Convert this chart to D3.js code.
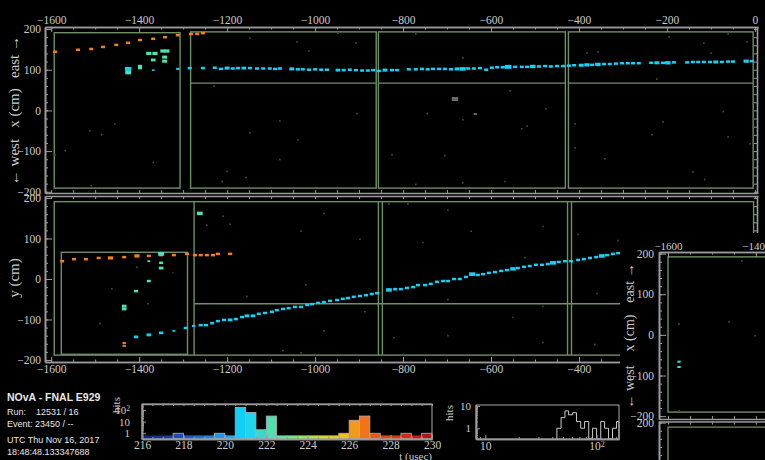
<!DOCTYPE html>
<html>
<head>
<meta charset="utf-8">
<script src="https://cdn.jsdelivr.net/npm/d3@7"></script>
<style>
  html, body { margin: 0; padding: 0; background: #000; }
  svg { display: block; }
</style>
</head>
<body>
<svg id="display" width="765" height="460"></svg>
<script>
// ---------------- event data (cm, µs, PE) ----------------
// hit lists: [z, transverse coordinate, charge (optional)]
const topCyan = [[-1425,102,150],[-1368,99,25],[-1312,102,40],
  [-1285,104],[-1255,104],[-1228,105],[-1214,102],[-1200,104,90],[-1187,103],[-1175,104],[-1162,104,80],[-1148,104],
  [-1132,103],[-1118,103],[-1103,103],[-1091,102],[-1080,103],[-1053,102,90],[-1039,101],[-1028,101],[-1014,100],
  [-1000,101],[-986,100],[-973,100],[-948,99,80],[-935,99],[-921,100],[-907,99],[-893,98],[-880,98],[-868,99],
  [-855,97],[-841,99,90],[-825,99],[-814,99],[-787,101],[-771,101],[-757,102],[-744,101],[-732,102],[-718,102],
  [-705,102],[-691,101],[-677,102,90],[-664,102,120],[-652,103],[-639,103],[-625,104],[-611,100],[-598,105],
  [-586,106],[-573,106],[-561,107,150],[-545,107],[-530,107],[-518,107],[-505,108,110],[-491,108],[-477,109],
  [-464,108],[-450,109],[-436,109],[-423,110],[-411,111],[-395,111,90],[-382,112,100],[-370,112],[-357,113,110],
  [-343,114],[-330,114],[-316,115],[-302,116],[-289,116],[-277,116],[-264,116],[-236,117],[-223,117,90],[-209,117],
  [-198,117,110],[-184,118],[-154,118],[-141,119],[-129,119],[-116,119],[-102,119],[-89,119,90],[-75,119],[-61,120],
  [-50,120],[-20,121,100],[-7,121]];
const topGreen = [[-1378,140,100],[-1364,140,100],[-1368,124,80],[-1346,146,100],[-1337,146,100],
  [-1342,131,90],[-1342,121,90],[-1398,109,60],[-1398,104,60],[-1425,93,120]];
const topOrange = [[-1591,144],[-1539,149],[-1509,151],[-1482,156],[-1452,161],[-1425,166],[-1398,173],
  [-1368,176],[-1341,180],[-1312,185],[-1282,188],[-1268,188],[-1255,190]];
const topGrey = [[-682,28,150],[-636,-9,40]];
const topNoise = [[-1148,178],[-1230,60],[-1512,-50],[-1485,-60],[-1455,-33],[-1568,-99],[-1368,-128],[-1509,-185],
  [-1200,-150],[-1211,-175],[-1157,-165],[-1148,-55],[-1591,-109],[-1041,168],[-1014,146],[-948,190],[-907,166],
  [-771,188],[-664,129],[-1080,-26],[-1039,-72],[-1080,-121],[-905,-8],[-745,-8],[-664,-23],[-557,48],[-518,-38],
  [-475,4],[-530,-45],[-568,-175],[-664,-178],[-705,-111],[-825,-109],[-771,-182],[-409,-33],[-409,-92],[-341,-119],
  [-234,-60],[-209,-28],[-72,-3],[-141,-151],[-114,-170],[-61,-65],[-11,-82],[-382,141],[-357,144],[-195,180],
  [-61,188],[-18,168]];
const topOrangeNoise = [[-100,141],[-116,166],[-223,77]];

const sideCyan = [[-1407,-143,70],[-1378,-138,80],[-1350,-133,70],[-1321,-128,30],[-1294,-121,60],[-1276,-116,40],
  [-1260,-114],[-1248,-114],[-1234,-109],[-1221,-104],[-1207,-101],[-1193,-101,80],[-1180,-99],[-1166,-94],
  [-1155,-91,80],[-1141,-91,80],[-1128,-86],[-1114,-84],[-1098,-81],[-1087,-77],[-1073,-74],[-1060,-72],[-1046,-69],
  [-1032,-69],[-1018,-64],[-1007,-62],[-993,-59],[-980,-57],[-966,-54],[-950,-52],[-937,-49],[-925,-47],[-912,-44],
  [-898,-42],[-884,-40],[-871,-37],[-859,-35],[-832,-27,120],[-818,-25],[-805,-25],[-791,-22],[-777,-20],[-766,-15],
  [-750,-15],[-737,-12],[-723,-7],[-709,-5],[-698,-5],[-684,0],[-671,0],[-657,5],[-643,12,130],[-630,10],[-618,12],
  [-605,15],[-591,17],[-577,20],[-564,22],[-550,25,110],[-539,27],[-525,30],[-512,32],[-498,35],[-484,35],[-471,37],
  [-459,40,130],[-446,42],[-432,44],[-418,44],[-402,47],[-389,49],[-375,52],[-361,54],[-348,57,120],[-336,59],
  [-323,62],[-311,64]];
const sideGreen = [[-1262,162,120],[-1350,62,130],[-1350,40,60],[-1350,27,80],[-1378,44,30],[-1378,-5,60],
  [-1407,-30,60],[-1434,-67,80],[-1434,-74,80]];
const sideOrange = [[-1575,44],[-1548,49],[-1521,49],[-1492,52],[-1465,52,100],[-1434,54],[-1405,57,100],
  [-1378,57],[-1350,59],[-1321,59],[-1291,62],[-1273,59],[-1260,59],[-1246,59],[-1232,59],[-1221,62],[-1193,62],
  [-1434,-158,40],[-1434,-165,40]];
const sideNoise = [[-1209,155],[-1193,135],[-1246,133],[-1405,29],[-1462,-24],[-1489,-110],[-1155,-43],[-1380,-61],
  [-980,162],[-1032,118],[-898,98],[-832,185],[-789,185],[-698,170],[-755,90],[-645,118],[-482,130],[-523,53],
  [-402,110],[-311,95],[-821,-145],[-698,-140],[-550,-95],[-482,-68],[-482,-157],[-364,-162],[-359,-36],[-698,-51],
  [-887,-81],[-1021,-14],[-1073,-177],[-1032,-182],[-980,-128]];
const sideRedNoise = [[-1323,16]];

const insetGreen = [[-1575,-66,40],[-1575,-79,40]];
const insetNoise = [[-1575,27],[-1432,182],[-1402,-2],[-1461,32],[-1575,-187]];

// hit times per cluster (µs)
const cyanTime = 220.9, greenTime = 222.3, orangeTime = 226.6;

// detector outlines: [z0, z1, c0, c1]
const topBoxes = [[-1593,-1307,-191,191],[-1283,-861,-191,193],[-856,-431,-191,193],[-424,-4,-191,193]];
const topDividers = [[-1283,-861,67],[-856,-431,67],[-424,-4,67]];           // [z0, z1, x]
const sideBoxes = [[-1593,-3,-188,191],[-1577,-1290,-186,66]];
const sideVerticals = [-1275,-856,-847,-426,-417];                            // z
const sideDividers = [[-1275,-3,-61]];                                        // [z0, z1, y]
const insetBoxes = [[-1600,-1300,-190,192]];

// time histogram
const timeBinStart = [216,216.5,217,217.5,218,218.5,219,219.5,220,220.5,221,221.5,222,222.5,
  223,223.5,224,224.5,225,225.5,226,226.5,227,227.5,228,228.5,229,229.5];
const timeCounts = [0,0,0,1,0,0,0,1,0,167,62,2,30,0,0,0,0,0,0,1,13,30,1,0,0,1,0,1];
const timeTicks = [216,218,220,222,224,226,228,230];

// charge histogram (log bins)
const qBinEdges = [44,48,52,56,61,66,72,78,85,92,100,109,118,128,139,151,159];
const qCounts = [1,3,6,4,5,2,1,2,0,1,0,2,1,0,1,2];

// run information
const infoTitle = "NOvA - FNAL E929";
const infoLines = ["Run:\u00a0\u00a0\u00a0\u00a012531 / 16", "Event: 23450 / --"];
const infoTime = ["UTC Thu Nov 16, 2017", "18:48:48.133347688"];

// ---------------- drawing ----------------
const svg = d3.select("#display");
const serif = "'Liberation Serif','DejaVu Serif',serif";
const sans = "'Liberation Sans','DejaVu Sans',sans-serif";
const axisGrey = "#9a9a9a", labelGrey = "#cccccc", boxGreen = "#6d9062";
const intFmt = d3.format("d");

svg.append("rect").attr("width", 765).attr("height", 460).attr("fill", "#000");

const timeColor = d3.scaleLinear()
  .domain([216,217,218,219,220,220.75,221.25,221.75,222.25,223,224,225,225.75,226.25,226.75,227.25,228,229,230])
  .range(["#10237a","#1834a0","#1f55bf","#2277d2","#22a2e6","#12cff8","#1fd6ee","#35dacf","#4fe0b2","#6ae496",
          "#a4e455","#dcdc1e","#f2bf1c","#f29a1c","#f2741a","#ef5514","#e23a12","#c82416","#a8141a"])
  .clamp(true);
const hitW = d3.scaleSqrt().domain([0, 150]).range([0, 6.4]);

// scales
const zMain = d3.scaleLinear().domain([-1614, 7]).range([45, 758]);
const xTop = d3.scaleLinear().domain([-203, 205]).range([193, 27]);
const ySide = d3.scaleLinear().domain([-205, 205]).range([362, 196]);
const zInset = d3.scaleLinear().domain([-1620.5, -1377]).range([659, 766]);
const xInset = d3.scaleLinear().domain([-207, 204]).range([419, 252]);
const xInset2 = d3.scaleLinear().domain([-207, 204]).range([588, 421]);

function drawBoxes(g, zs, cs, boxes) {
  g.selectAll(null).data(boxes).join("rect")
    .attr("x", d => zs(d[0])).attr("y", d => cs(d[3]))
    .attr("width", d => zs(d[1]) - zs(d[0])).attr("height", d => cs(d[2]) - cs(d[3]))
    .attr("fill", "none").attr("stroke", boxGreen).attr("stroke-width", 1.4);
}
function drawHits(g, zs, cs, hits, color, qDefault = 60) {
  g.selectAll(null).data(hits).join("rect")
    .attr("width", d => hitW(d[2] ?? qDefault))
    .attr("height", d => hitW(d[2] ?? qDefault) * 0.62)
    .attr("x", d => zs(d[0]) - hitW(d[2] ?? qDefault) / 2)
    .attr("y", d => cs(d[1]) - hitW(d[2] ?? qDefault) * 0.31)
    .attr("fill", color);
}
function drawNoise(g, zs, cs, pts, color) {
  g.selectAll(null).data(pts).join("rect")
    .attr("x", d => zs(d[0]) - 0.8).attr("y", d => cs(d[1]) - 0.8)
    .attr("width", 1.6).attr("height", 1.6).attr("fill", color);
}
function styleAxis(g, size = 11.5) {
  g.attr("color", axisGrey);
  g.select(".domain").attr("stroke-width", 1.6);
  g.selectAll("text").attr("fill", labelGrey).attr("font-family", serif).attr("font-size", size);
  return g;
}
function axis(parent, gen, tx, ty, size) {
  return styleAxis(parent.append("g").attr("transform", `translate(${tx},${ty})`).call(gen), size);
}
const zMajor = [-1600,-1400,-1200,-1000,-800,-600,-400,-200,0];
const zMinor = d3.range(-1600, 1, 50);
const tMajor = [-200,-100,0,100,200];
const tMinor = d3.range(-200, 201, 20);

// ---- top view (x vs z)
const gTop = svg.append("g");
drawBoxes(gTop, zMain, xTop, topBoxes);
gTop.selectAll(null).data(topDividers).join("line")
  .attr("x1", d => zMain(d[0])).attr("x2", d => zMain(d[1]))
  .attr("y1", d => xTop(d[2])).attr("y2", d => xTop(d[2]))
  .attr("stroke", boxGreen).attr("stroke-width", 1.4);
drawNoise(gTop, zMain, xTop, topNoise, "#4a4a4a");
drawNoise(gTop, zMain, xTop, topOrangeNoise, "#7a4010");
drawHits(gTop, zMain, xTop, topGrey, "#6a6a6a");
drawHits(gTop, zMain, xTop, topOrange, timeColor(orangeTime));
drawHits(gTop, zMain, xTop, topCyan, timeColor(cyanTime));
drawHits(gTop, zMain, xTop, topGreen, timeColor(greenTime));

axis(gTop, d3.axisLeft(xTop).tickValues(tMinor).tickSize(-3).tickSizeOuter(0).tickFormat(""), 45, 0);
axis(gTop, d3.axisLeft(xTop).tickValues(tMajor).tickSize(-7).tickSizeOuter(0).tickPadding(4).tickFormat(intFmt), 45, 0);
axis(gTop, d3.axisTop(zMain).tickValues(zMinor).tickSize(-2.5).tickSizeOuter(0).tickFormat(""), 0, 27);
axis(gTop, d3.axisTop(zMain).tickValues(zMajor).tickSize(-5).tickSizeOuter(0).tickPadding(3).tickFormat(intFmt), 0, 27);
axis(gTop, d3.axisBottom(zMain).tickValues(zMinor).tickSize(-3).tickSizeOuter(0).tickFormat(""), 0, 193);
axis(gTop, d3.axisRight(xTop).tickValues(tMinor).tickSize(-3).tickSizeOuter(0).tickFormat(""), 757, 0);

// ---- side view (y vs z)
const gSide = svg.append("g");
drawBoxes(gSide, zMain, ySide, sideBoxes);
gSide.selectAll(null).data(sideVerticals).join("line")
  .attr("x1", d => zMain(d)).attr("x2", d => zMain(d))
  .attr("y1", ySide(191)).attr("y2", ySide(-188))
  .attr("stroke", boxGreen).attr("stroke-width", 1.4);
gSide.selectAll(null).data(sideDividers).join("line")
  .attr("x1", d => zMain(d[0])).attr("x2", d => zMain(d[1]))
  .attr("y1", d => ySide(d[2])).attr("y2", d => ySide(d[2]))
  .attr("stroke", boxGreen).attr("stroke-width", 1.4);
drawNoise(gSide, zMain, ySide, sideNoise, "#4a4a4a");
drawNoise(gSide, zMain, ySide, sideRedNoise, "#6a1810");
drawHits(gSide, zMain, ySide, sideOrange, timeColor(orangeTime));
drawHits(gSide, zMain, ySide, sideCyan, timeColor(cyanTime));
drawHits(gSide, zMain, ySide, sideGreen, timeColor(greenTime));

axis(gSide, d3.axisLeft(ySide).tickValues(tMinor).tickSize(-3).tickSizeOuter(0).tickFormat(""), 45, 0);
axis(gSide, d3.axisLeft(ySide).tickValues(tMajor).tickSize(-7).tickSizeOuter(0).tickPadding(4).tickFormat(intFmt), 45, 0);
axis(gSide, d3.axisTop(zMain).tickValues(zMinor).tickSize(-3).tickSizeOuter(0).tickFormat(""), 0, 196);
axis(gSide, d3.axisBottom(zMain).tickValues(zMinor).tickSize(-2.5).tickSizeOuter(0).tickFormat(""), 0, 362);
axis(gSide, d3.axisBottom(zMain).tickValues(zMajor).tickSize(-5).tickSizeOuter(0).tickPadding(3).tickFormat(intFmt), 0, 362);
axis(gSide, d3.axisRight(ySide).tickValues(tMinor).tickSize(-3).tickSizeOuter(0).tickFormat(""), 757, 0);

// axis titles
function vTitle(x, y, text, size = 15) {
  svg.append("text").attr("transform", `translate(${x},${y}) rotate(-90)`)
    .attr("text-anchor", "middle").attr("dominant-baseline", "central")
    .attr("font-family", serif).attr("font-size", size).attr("fill", labelGrey).text(text);
}
vTitle(14, 57, "east \u2192");
vTitle(14, 108, "x (cm)");
vTitle(14, 162, "\u2190 west");
vTitle(14, 278, "y (cm)");

// ---- inset: second x-z panel
const gIn = svg.append("g");
gIn.append("rect").attr("x", 620).attr("y", 233).attr("width", 145).attr("height", 227).attr("fill", "#000");
drawBoxes(gIn, zInset, xInset, insetBoxes);
gIn.append("path")
  .attr("d", `M${zInset(-1300)},${xInset2(189)}H${zInset(-1600)}V${xInset2(-207)}`)
  .attr("fill", "none").attr("stroke", boxGreen).attr("stroke-width", 1.4);
drawNoise(gIn, zInset, xInset, insetNoise, "#4a4a4a");
drawHits(gIn, zInset, xInset, insetGreen, timeColor(222.0));
axis(gIn, d3.axisLeft(xInset).tickValues(tMinor).tickSize(-3).tickSizeOuter(0).tickFormat(""), 659, 0);
axis(gIn, d3.axisLeft(xInset).tickValues(tMajor).tickSize(-7).tickSizeOuter(0).tickPadding(5).tickFormat(intFmt), 659, 0);
axis(gIn, d3.axisTop(zInset).tickValues(d3.range(-1600, -1350, 50)).tickSize(-2.5).tickSizeOuter(0).tickFormat(""), 0, 252);
axis(gIn, d3.axisTop(zInset).tickValues([-1600, -1400]).tickSize(-5).tickSizeOuter(0).tickPadding(2).tickFormat(intFmt), 0, 252, 11);
axis(gIn, d3.axisBottom(zInset).tickValues(d3.range(-1600, -1350, 50)).tickSize(-3).tickSizeOuter(0).tickFormat(""), 0, 419);
axis(gIn, d3.axisTop(zInset).tickValues(d3.range(-1600, -1350, 50)).tickSize(-3).tickSizeOuter(0).tickFormat(""), 0, 421.5);
axis(gIn, d3.axisLeft(xInset2).tickValues(tMinor).tickSize(-3).tickSizeOuter(0).tickFormat(""), 659, 0);
axis(gIn, d3.axisLeft(xInset2).tickValues([200]).tickSize(-7).tickSizeOuter(0).tickPadding(5).tickFormat(intFmt), 659, 0);
vTitle(629, 283, "east \u2192", 14);
vTitle(629, 333, "x (cm)", 14);
vTitle(629, 387, "\u2190 west", 14);

// ---- run information
const gInfo = svg.append("g").attr("font-family", sans).attr("fill", "#e8e8e8");
gInfo.append("text").attr("x", 7).attr("y", 401).attr("font-size", 10.5).attr("font-weight", "bold").text(infoTitle);
gInfo.selectAll(null).data(infoLines).join("text")
  .attr("x", 7).attr("y", (d, i) => 415 + i * 12).attr("font-size", 9).text(d => d);
gInfo.selectAll(null).data(infoTime).join("text")
  .attr("x", 7).attr("y", (d, i) => 443 + i * 12).attr("font-size", 9).text(d => d);

// ---- time histogram
const tx = d3.scaleLinear().domain([216, 230]).range([142, 432]);
const ty = d3.scaleLog().domain([0.32, 326]).range([439, 404]);
const gT = svg.append("g");
gT.selectAll(null).data(timeBinStart).join("rect")
  .attr("x", d => tx(d)).attr("width", d => tx(d + 0.5) - tx(d) + 0.3)
  .attr("y", ty(0.65)).attr("height", 439 - ty(0.65))
  .attr("fill", d => timeColor(d + 0.25));
gT.selectAll(null).data(timeBinStart.filter((d, i) => timeCounts[i] > 0)).join("rect")
  .attr("x", d => tx(d)).attr("width", d => tx(d + 0.5) - tx(d))
  .attr("y", d => ty(timeCounts[timeBinStart.indexOf(d)]))
  .attr("height", d => 439 - ty(timeCounts[timeBinStart.indexOf(d)]))
  .attr("fill", d => timeColor(d + 0.25))
  .attr("stroke", "#b0b0b0").attr("stroke-width", 0.8);
gT.append("rect").attr("x", 142).attr("y", 404).attr("width", 290).attr("height", 35)
  .attr("fill", "none").attr("stroke", "#aaa").attr("stroke-width", 1);
axis(gT, d3.axisBottom(tx).tickValues(d3.range(216, 230.1, 0.5)).tickSize(-2).tickSizeOuter(0).tickFormat(""), 0, 439);
axis(gT, d3.axisBottom(tx).tickValues(timeTicks).tickSize(-4).tickSizeOuter(0).tickPadding(2).tickFormat(intFmt), 0, 439, 11.5);
axis(gT, d3.axisTop(tx).tickValues(d3.range(216, 230.1, 0.5)).tickSize(-2).tickSizeOuter(0).tickFormat(""), 0, 404);
axis(gT, d3.axisLeft(ty).tickValues([2,3,4,5,6,7,8,9,20,30,40,50,60,70,80,90,200,300]).tickSize(-2).tickSizeOuter(0).tickFormat(""), 142, 0);
const tyAx = axis(gT, d3.axisLeft(ty).tickValues([1, 10, 100]).tickSize(-4).tickSizeOuter(0).tickPadding(12).tickFormat(intFmt), 142, 0, 11);
function powerLabels(sel) {
  sel.selectAll("text").each(function (d) {
    const t = d3.select(this);
    if (d >= 100) {
      t.text("10");
      t.append("tspan").attr("dy", "-0.4em").attr("font-size", "0.7em").text(String(Math.round(Math.log10(d))));
    }
  });
}
powerLabels(tyAx);
svg.append("text").attr("transform", "translate(116,405) rotate(-90)").attr("text-anchor", "middle")
  .attr("dominant-baseline", "central").attr("font-family", serif).attr("font-size", 11).attr("fill", labelGrey).text("hits");
svg.append("text").attr("x", 432).attr("y", 459.5).attr("text-anchor", "end")
  .attr("font-family", serif).attr("font-size", 11).attr("fill", labelGrey).text("t (usec)");

// ---- charge histogram
const qx = d3.scaleLog().domain([8.26, 159]).range([476, 619]);
const qy = d3.scaleLog().domain([0.33, 11]).range([439, 405]);
const gQ = svg.append("g");
const stepPts = [];
qCounts.forEach((c, i) => {
  const yv = c > 0 ? qy(c) : 439;
  stepPts.push([qx(qBinEdges[i]), yv], [qx(qBinEdges[i + 1]), yv]);
});
gQ.append("path")
  .attr("d", "M" + qx(qBinEdges[0]) + ",439L" + stepPts.map(p => p.join(",")).join("L") + "L" + qx(qBinEdges[qBinEdges.length - 1]) + ",439")
  .attr("fill", "none").attr("stroke", "#c8c8c8").attr("stroke-width", 1);
gQ.append("rect").attr("x", 476).attr("y", 405).attr("width", 143).attr("height", 34)
  .attr("fill", "none").attr("stroke", "#aaa").attr("stroke-width", 1);
axis(gQ, d3.axisBottom(qx).tickValues([9,20,30,40,50,60,70,80,90,150]).tickSize(-2).tickSizeOuter(0).tickFormat(""), 0, 439);
const qxAx = axis(gQ, d3.axisBottom(qx).tickValues([10, 100]).tickSize(-4).tickSizeOuter(0).tickPadding(3).tickFormat(intFmt), 0, 439, 11.5);
powerLabels(qxAx);
axis(gQ, d3.axisLeft(qy).tickValues([0.4,0.5,0.6,0.7,0.8,0.9,2,3,4,5,6,7,8,9]).tickSize(-2).tickSizeOuter(0).tickFormat(""), 476, 0);
axis(gQ, d3.axisLeft(qy).tickValues([1, 10]).tickSize(-4).tickSizeOuter(0).tickPadding(5).tickFormat(intFmt), 476, 0, 11);
svg.append("text").attr("transform", "translate(449,413) rotate(-90)").attr("text-anchor", "middle")
  .attr("dominant-baseline", "central").attr("font-family", serif).attr("font-size", 11).attr("fill", labelGrey).text("hits");
</script>
</body>
</html>
